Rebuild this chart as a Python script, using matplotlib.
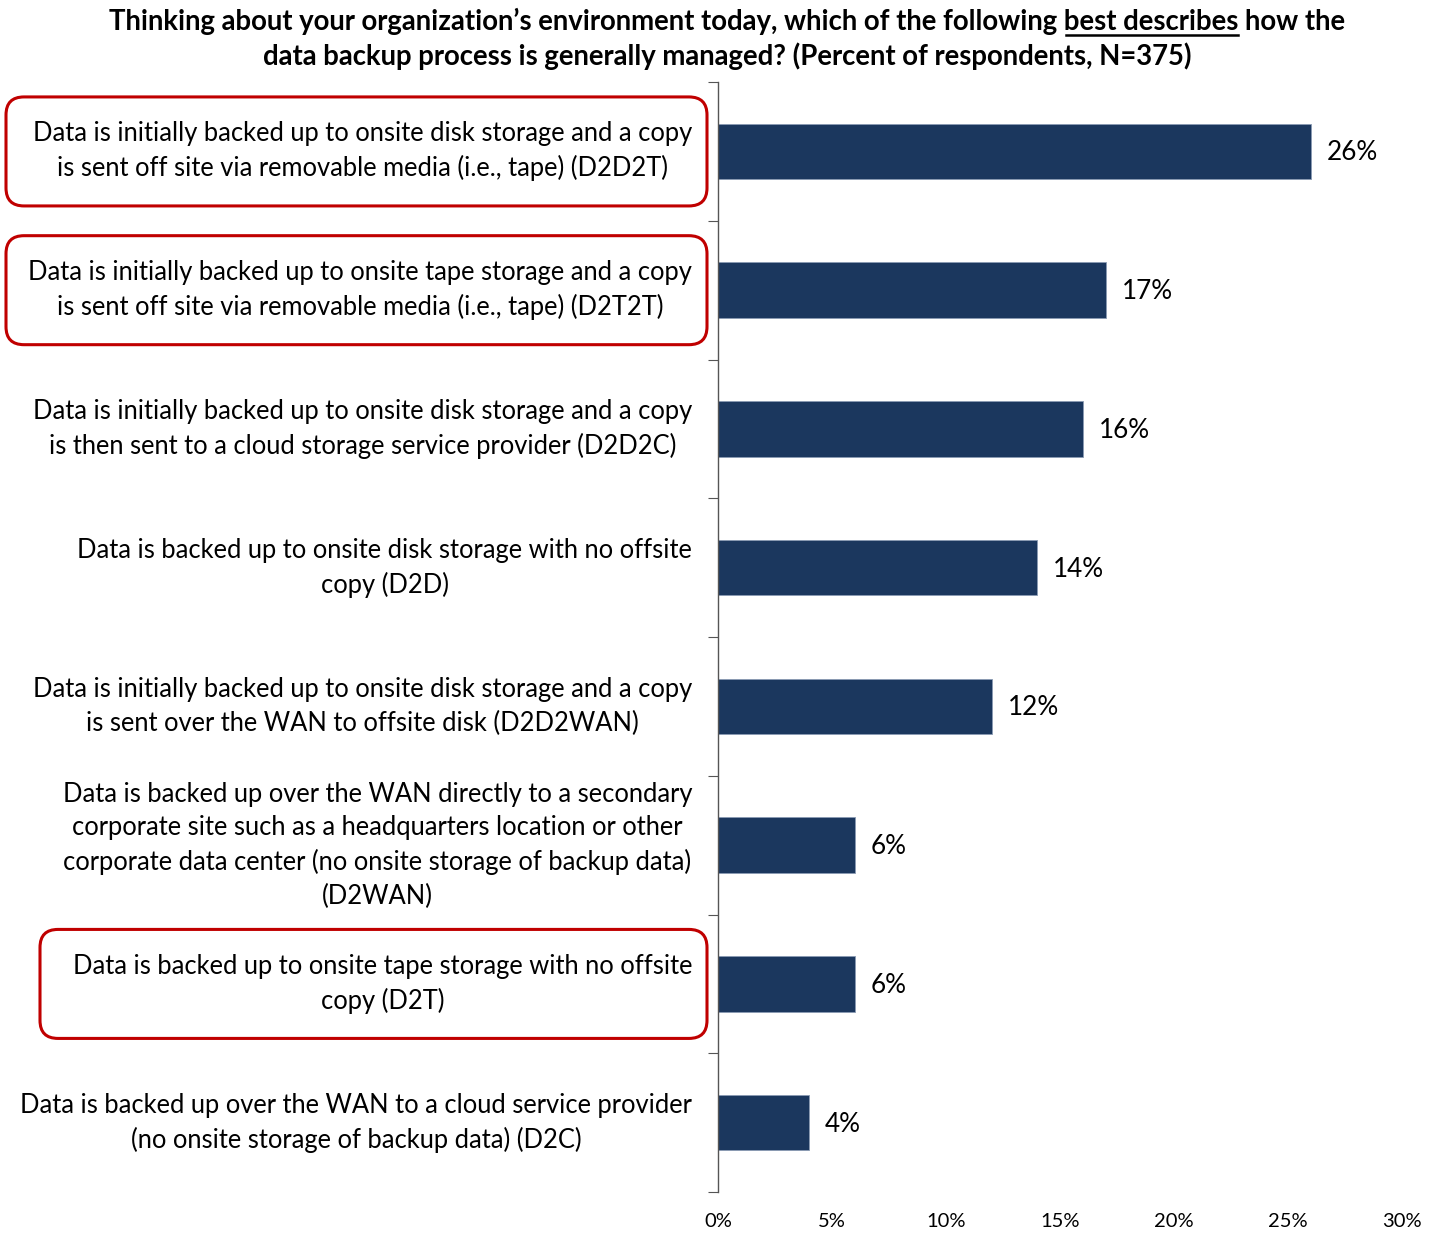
import matplotlib
matplotlib.use("Agg")
import matplotlib.pyplot as plt
from matplotlib.patches import FancyBboxPatch
from matplotlib.lines import Line2D
import matplotlib.transforms as mtrans

plt.rcParams['font.family'] = ['Lato', 'DejaVu Sans']

# dados do gráfico
categorias = [
    "Data is initially backed up to onsite disk storage and a copy\nis sent off site via removable media (i.e., tape) (D2D2T)",
    "Data is initially backed up to onsite tape storage and a copy\nis sent off site via removable media (i.e., tape) (D2T2T)",
    "Data is initially backed up to onsite disk storage and a copy\nis then sent to a cloud storage service provider (D2D2C)",
    "Data is backed up to onsite disk storage with no offsite\ncopy (D2D)",
    "Data is initially backed up to onsite disk storage and a copy\nis sent over the WAN to offsite disk (D2D2WAN)",
    "Data is backed up over the WAN directly to a secondary\ncorporate site such as a headquarters location or other\ncorporate data center (no onsite storage of backup data)\n(D2WAN)",
    "Data is backed up to onsite tape storage with no offsite\ncopy (D2T)",
    "Data is backed up over the WAN to a cloud service provider\n(no onsite storage of backup data) (D2C)",
]
valores = [26, 17, 16, 14, 12, 6, 6, 4]
destacados = [0, 1, 6]  # caixas vermelhas
xticks = [0, 5, 10, 15, 20, 25, 30]

cor_barra = "#1b375e"
cor_caixa = "#c00000"

fig = plt.figure(figsize=(14.36, 12.34), dpi=100)
ax = fig.add_axes([0.5, 0.034, 0.4763, 0.8995])

n = len(valores)
pos = list(range(n))
ax.barh(pos, valores, height=0.4, color=cor_barra, edgecolor="#8a9bb3", linewidth=0.6)
ax.set_ylim(n - 0.5, -0.5)
ax.set_xlim(0, 30)

for s in ["top", "right", "bottom"]:
    ax.spines[s].set_visible(False)
ax.spines["left"].set_color("#555555")
ax.spines["left"].set_linewidth(1)

ax.set_yticks([i - 0.5 for i in range(n + 1)])
ax.set_yticklabels([])
ax.tick_params(axis="y", length=7, direction="out", color="#555555")
ax.set_xticks(xticks)
ax.set_xticklabels([f"{t}%" for t in xticks], fontsize=14.5)
ax.tick_params(axis="x", length=0, pad=15)

for i, v in enumerate(valores):
    ax.text(v + 0.7, i + 0.01, f"{v}%", va="center", ha="left", fontsize=18.8)

trans = mtrans.blended_transform_factory(ax.transAxes, ax.transData)
for i, cat in enumerate(categorias):
    ax.text(-0.038, i, cat, transform=trans, ha="right", va="center",
            fontsize=18.4, linespacing=1.42, multialignment="center")

# caixas vermelhas em volta dos rótulos destacados
fig_h = 1234
fig_w = 1436
for i in destacados:
    y_data = ax.transData.transform((0, i))[1]
    hgt = 109
    x0 = 6 if i < 2 else 40
    x1 = 707
    box = FancyBboxPatch(((x0 + 12) / fig_w, (y_data - hgt / 2 + 12) / fig_h),
                         (x1 - x0 - 24) / fig_w, (hgt - 24) / fig_h,
                         boxstyle="round,pad=0,rounding_size=0.012",
                         transform=fig.transFigure, fill=False,
                         edgecolor=cor_caixa, linewidth=2.2,
                         mutation_aspect=fig_w / fig_h)
    box.set_boxstyle("round", pad=12 / fig_w, rounding_size=18 / fig_w)
    fig.patches.append(box)

# título com "best describes" sublinhado
renderer = fig.canvas.get_renderer()
p1 = "Thinking about your organization\u2019s environment today, which of the following "
p2 = "best describes"
p3 = " how the"
kw = dict(fontsize=19.8, fontweight="bold")
cx = 727 / fig_w
y1 = 1 - 21 / fig_h
tmp = fig.text(0, 0, p1 + p2 + p3, **kw)
w_all = tmp.get_window_extent(renderer).width
tmp.remove()
tmp = fig.text(0, 0, p1, **kw)
w1 = tmp.get_window_extent(renderer).width
tmp.remove()
tmp = fig.text(0, 0, p1 + p2, **kw)
w12 = tmp.get_window_extent(renderer).width
tmp.remove()
x_ini = cx * fig_w - w_all / 2
fig.text(x_ini / fig_w, y1, p1 + p2 + p3, ha="left", va="center", **kw)
yl = y1 - 14 / fig_h
fig.add_artist(Line2D([(x_ini + w1 + 2) / fig_w, (x_ini + w12) / fig_w], [yl, yl],
                      transform=fig.transFigure, color="black", linewidth=1.8))
fig.text(cx, 1 - 56 / fig_h, "data backup process is generally managed? (Percent of respondents, N=375)",
         ha="center", va="center", **kw)

fig.savefig("out.png", dpi=100)
